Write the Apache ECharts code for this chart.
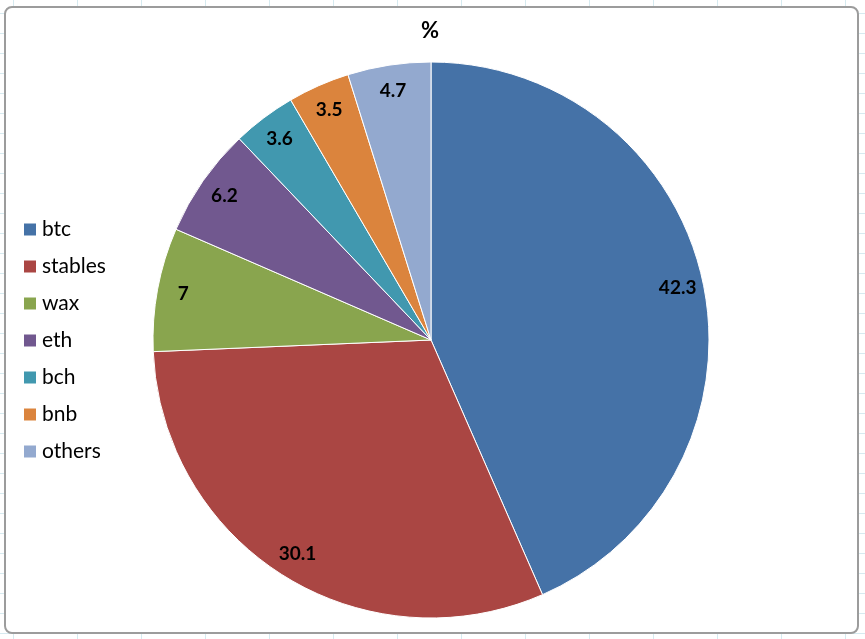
<!DOCTYPE html>
<html>
<head>
<meta charset="utf-8">
<script src="https://cdn.jsdelivr.net/npm/echarts@6/dist/echarts.min.js"></script>
<style>
html,body{margin:0;padding:0;width:865px;height:639px;overflow:hidden;}
body{background-color:#fff;
background-image:linear-gradient(to right, #d6eaf0 1px, transparent 1px),linear-gradient(to bottom, #d6eaf0 1px, transparent 1px);
background-size:64px 20px;background-position:13px 0, 0 13px;}
#frame{position:absolute;left:4px;top:6px;width:851px;height:624px;background:#fff;border:2px solid #9c9c9c;border-radius:8px;}
#chart{position:absolute;left:0;top:0;width:865px;height:639px;}
</style>
</head>
<body>
<div id="frame"></div>
<div id="chart"></div>
<script>
const categories = ['btc', 'stables', 'wax', 'eth', 'bch', 'bnb', 'others'];
const values = [42.3, 30.1, 7, 6.2, 3.6, 3.5, 4.7];
const colors = ['#4572A7', '#AA4643', '#89A54E', '#71588F', '#4198AF', '#DB843D', '#93A9CF'];
const titleText = '%';

const data = categories.map((c, i) => ({ name: c, value: values[i] }));
const chart = echarts.init(document.getElementById('chart'), null, { renderer: 'canvas' });
const font = 'Lato';
chart.setOption({
  animation: false,
  backgroundColor: 'transparent',
  color: colors,
  title: {
    text: titleText, left: 430, top: 20, textAlign: 'center', padding: 0,
    textStyle: { fontFamily: font, fontWeight: 'bold', fontSize: 22, color: '#000' }
  },
  legend: {
    orient: 'vertical', left: 22, top: 219, padding: 0,
    itemWidth: 14, itemHeight: 14, itemGap: 16, icon: 'rect',
    data: categories,
    textStyle: { fontFamily: font, fontSize: 21, color: '#000' }
  },
  series: [
    {
      type: 'pie', center: [431, 340], radius: [0, 278], startAngle: 90, clockwise: true,
      data: data, label: { show: false }, labelLine: { show: false },
      itemStyle: { borderColor: '#ffffff', borderWidth: 1 },
      emphasis: { disabled: true }
    },
    {
      type: 'pie', center: [431, 340], radius: [220, 278], startAngle: 90, clockwise: true,
      data: data, silent: true, legendHoverLink: false,
      itemStyle: { color: 'rgba(0,0,0,0)', borderWidth: 0 },
      label: { show: true, position: 'inside', formatter: '{c}', fontFamily: font, fontWeight: 'bold', fontSize: 19, color: '#000' },
      labelLine: { show: false },
      emphasis: { disabled: true }
    }
  ]
});
</script>
</body>
</html>
